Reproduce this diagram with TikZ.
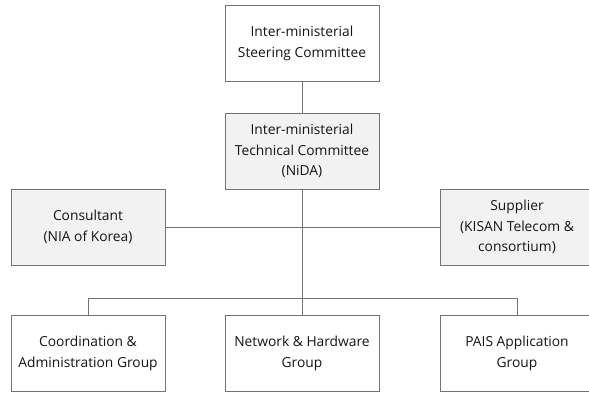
\documentclass[tikz,border=0pt]{standalone}
\usepackage{fontspec}
\setmainfont{Open Sans}
\begin{document}
\begin{tikzpicture}[x=1pt,y=-1pt,
  box/.style={draw=black!55, line width=0.9pt, minimum width=154pt, minimum height=76pt,
    align=center, inner sep=0pt, font=\fontsize{13.8}{20.5}\selectfont, text=black!92},
  graybox/.style={box, fill=black!5},
  link/.style={draw=black!55, line width=0.9pt}]
\useasboundingbox (0,0) rectangle (589,393);
\clip (0,0) rectangle (589,393);
\node[box] (steer) at (302,43.5) {Inter-ministerial\\Steering Committee};
\node[graybox] (tech) at (302,151) {Inter-ministerial\\Technical Committee\\(NiDA)};
\node[graybox] (cons) at (88,227) {Consultant\\(NIA of Korea)};
\node[graybox] (supp) at (517,227) {Supplier\\(KISAN Telecom \&\\consortium)};
\node[box] (coord) at (88,353.5) {Coordination \&\\Administration Group};
\node[box] (net) at (302,353.5) {Network \& Hardware\\Group};
\node[box] (pais) at (517,353.5) {PAIS Application\\Group};
\coordinate (bus) at (302,298);
\draw[link] (steer) -- (tech);
\draw[link] (tech) -- (net);
\draw[link] (cons) -- (supp);
\draw[link] (coord.north) -- (coord.north |- bus) -- (pais.north |- bus) -- (pais.north);
\end{tikzpicture}
\end{document}
